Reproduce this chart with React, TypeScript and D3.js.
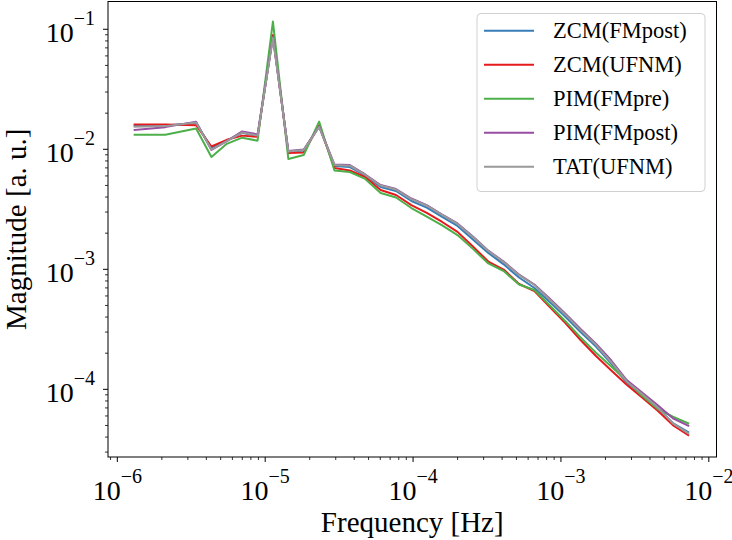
import React from "react";
import * as d3 from "d3";

const frequencies = [1.31e-6, 2.11e-6, 3.41e-6, 4.33e-6, 5.5e-6, 6.99e-6, 8.88e-6, 1.128e-5, 1.434e-5, 1.822e-5, 2.315e-5, 2.941e-5, 3.737e-5, 4.748e-5, 6.033e-5, 7.666e-5, 9.74e-5, 1.238e-4, 1.573e-4, 1.998e-4, 2.539e-4, 3.226e-4, 4.099e-4, 5.208e-4, 6.617e-4, 8.408e-4, 1.068e-3, 1.357e-3, 1.725e-3, 2.191e-3, 2.784e-3, 3.538e-3, 4.495e-3, 5.712e-3, 7.257e-3];

const zcmFMpost = [0.0158, 0.0158, 0.0166, 0.01025, 0.0118, 0.0137, 0.0129, 0.088, 0.0095, 0.00977, 0.0156, 0.00726, 0.00712, 0.00605, 0.00485, 0.00449, 0.00371, 0.00327, 0.00273, 0.0023, 0.00177, 0.00137, 0.0011, 8.54e-4, 6.99e-4, 5.34e-4, 4.04e-4, 3.0e-4, 2.273e-4, 1.641e-4, 1.139e-4, 8.96e-5, 6.99e-5, 5.24e-5, 4.41e-5];
const zcmUFNM = [0.0161, 0.0161, 0.0159, 0.01055, 0.012, 0.013, 0.0127, 0.0896, 0.00931, 0.0094, 0.0158, 0.00699, 0.00666, 0.00588, 0.00458, 0.00416, 0.00343, 0.00295, 0.00248, 0.00205, 0.00155, 0.00116, 9.96e-4, 7.54e-4, 6.6e-4, 4.85e-4, 3.575e-4, 2.575e-4, 1.894e-4, 1.437e-4, 1.092e-4, 8.54e-5, 6.67e-5, 5.04e-5, 4.16e-5];
const pimFMpre = [0.0132, 0.0132, 0.0149, 0.00863, 0.0111, 0.0125, 0.0118, 0.116, 0.0083, 0.00896, 0.017, 0.00666, 0.00647, 0.00566, 0.00432, 0.00397, 0.00324, 0.00275, 0.00232, 0.00193, 0.00148, 0.00112, 9.68e-4, 7.47e-4, 6.72e-4, 5.0e-4, 3.715e-4, 2.707e-4, 2.015e-4, 1.552e-4, 1.18e-4, 8.85e-5, 6.89e-5, 5.91e-5, 5.21e-5];
const pimFMpost = [0.0145, 0.0153, 0.017, 0.00987, 0.0117, 0.0141, 0.0133, 0.0863, 0.00968, 0.00996, 0.0155, 0.00747, 0.0074, 0.00617, 0.00504, 0.00467, 0.00389, 0.00343, 0.00286, 0.00241, 0.00188, 0.00143, 0.00116, 9.05e-4, 7.47e-4, 5.69e-4, 4.29e-4, 3.18e-4, 2.399e-4, 1.738e-4, 1.195e-4, 9.4e-5, 7.4e-5, 5.73e-5, 4.97e-5];
const tatUFNM = [0.0154, 0.0156, 0.0167, 0.00996, 0.0117, 0.0138, 0.013, 0.0846, 0.00959, 0.00987, 0.0153, 0.0074, 0.0073, 0.00611, 0.00499, 0.00462, 0.00385, 0.0034, 0.00284, 0.00239, 0.00186, 0.00142, 0.00115, 8.96e-4, 7.4e-4, 5.58e-4, 4.21e-4, 3.113e-4, 2.349e-4, 1.682e-4, 1.164e-4, 9.14e-5, 7.08e-5, 5.21e-5, 4.3e-5];

const seriesNames = ["ZCM(FMpost)", "ZCM(UFNM)", "PIM(FMpre)", "PIM(FMpost)", "TAT(UFNM)"];
const seriesValues = [zcmFMpost, zcmUFNM, pimFMpre, pimFMpost, tatUFNM];
const seriesColors = ["#377eb8", "#e41a1c", "#4daf4a", "#984ea3", "#999999"];

const xTickExps = [-6, -5, -4, -3, -2];
const yTickExps = [-1, -2, -3, -4];

const W = 732;
const H = 540;
const L = 108;
const R = 716.5;
const T = 1.5;
const B = 457;
const FONT = "'Liberation Serif', 'Times New Roman', serif";

export default function App() {
  const x = d3.scaleLog().domain([8.65e-7, 0.01127]).range([L, R]);
  const y = d3.scaleLog().domain([2.73e-5, 0.1704]).range([B, T]);

  const line = d3
    .line<number>()
    .x((_, i) => x(frequencies[i]))
    .y((d) => y(d));

  const minor = (lo: number, hi: number, dom: [number, number]) => {
    const out: number[] = [];
    for (let e = lo; e <= hi; e++) {
      for (let m = 2; m <= 9; m++) {
        const v = m * Math.pow(10, e);
        if (v >= dom[0] && v <= dom[1]) out.push(v);
      }
    }
    return out;
  };
  const xMinor = minor(-7, -2, [8.65e-7, 0.01127]);
  const yMinor = minor(-5, -1, [2.73e-5, 0.1704]);

  return (
    <svg width={W} height={H} style={{ position: "absolute", left: 0, top: 0, background: "#fff" }} fontFamily={FONT}>
      <rect x={0} y={0} width={W} height={H} fill="#fff" />
      <defs>
        <clipPath id="plotclip">
          <rect x={L} y={T} width={R - L} height={B - T} />
        </clipPath>
      </defs>
      <g clipPath="url(#plotclip)">
        {seriesValues.map((vals, i) => (
          <path key={i} d={line(vals) || ""} fill="none" stroke={seriesColors[i]} strokeWidth={2} strokeLinejoin="round" strokeLinecap="square" />
        ))}
      </g>
      {/* frame */}
      <rect x={L} y={T} width={R - L} height={B - T} fill="none" stroke="#000" strokeWidth={1} />
      {/* x ticks */}
      {xTickExps.map((e) => {
        const px = x(Math.pow(10, e));
        return (
          <g key={"xt" + e}>
            <line x1={px} x2={px} y1={B} y2={B + 5} stroke="#000" strokeWidth={1} />
            <text x={px} y={B + 43} textAnchor="middle" fontSize={28} fill="#000">
              10<tspan dy={-17} fontSize={20}>{"\u2212" + Math.abs(e)}</tspan>
            </text>
          </g>
        );
      })}
      {xMinor.map((v, i) => (
        <line key={"xm" + i} x1={x(v)} x2={x(v)} y1={B} y2={B + 3} stroke="#000" strokeWidth={0.8} />
      ))}
      {/* y ticks */}
      {yTickExps.map((e) => {
        const py = y(Math.pow(10, e));
        return (
          <g key={"yt" + e}>
            <line x1={L - 5} x2={L} y1={py} y2={py} stroke="#000" strokeWidth={1} />
            <text x={95} y={py + 13} textAnchor="end" fontSize={28} fill="#000">
              10<tspan dy={-17} fontSize={20}>{"\u2212" + Math.abs(e)}</tspan>
            </text>
          </g>
        );
      })}
      {yMinor.map((v, i) => (
        <line key={"ym" + i} x1={L - 3} x2={L} y1={y(v)} y2={y(v)} stroke="#000" strokeWidth={0.8} />
      ))}
      {/* axis labels */}
      <text x={(L + R) / 2} y={532} textAnchor="middle" fontSize={29} fill="#000">
        Frequency [Hz]
      </text>
      <text transform={`translate(25.5, ${(T + B) / 2}) rotate(-90)`} textAnchor="middle" fontSize={29} fill="#000">
        Magnitude [a. u.]
      </text>
      {/* legend */}
      <rect x={477} y={13.5} width={228} height={178} rx={4} ry={4} fill="#fff" fillOpacity={0.8} stroke="#d0d0d0" strokeWidth={1} />
      {seriesNames.map((name, i) => {
        const cy = 30.7 + i * 34;
        return (
          <g key={"lg" + i}>
            <line x1={484} x2={534} y1={cy} y2={cy} stroke={seriesColors[i]} strokeWidth={2} />
            <text x={553} y={cy + 7.5} fontSize={22.5} fill="#000">
              {name}
            </text>
          </g>
        );
      })}
    </svg>
  );
}
